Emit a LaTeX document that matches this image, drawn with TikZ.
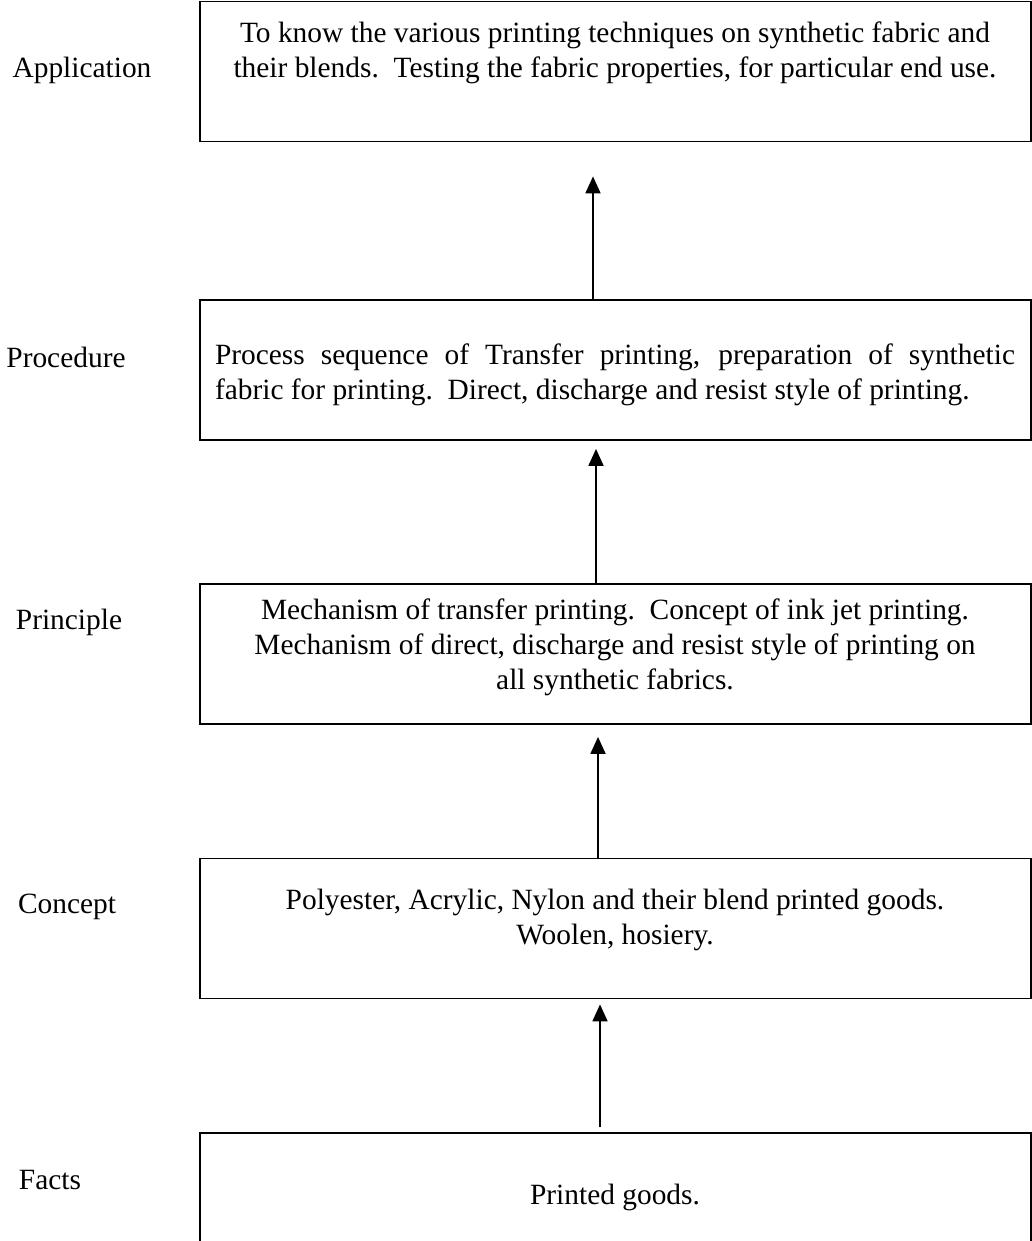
\documentclass[tikz,border=0pt]{standalone}
\usepackage{fontspec}
\setmainfont{Liberation Serif}
\usetikzlibrary{arrows.meta,positioning}

\tikzset{
  stagebox/.style={draw, line width=0.9pt, minimum width=415.5pt,
                   minimum height=70pt, inner sep=0pt},
  stagetext/.style={font=\fontsize{14.7}{17.5}\selectfont, align=center,
                    inner sep=0pt},
  stagelabel/.style={font=\fontsize{14.7}{17.5}\selectfont, inner sep=0pt},
  flow/.style={-{Triangle[length=8.5pt,width=7.5pt]}, line width=0.9pt}
}

\begin{document}
\begin{tikzpicture}[x=0.5pt, y=-0.5pt]
  \useasboundingbox (0,0) rectangle (1032,1241);

  %% -- stage boxes and side labels --------------------
  \foreach \nm/\yy/\lab/\lx/\ly in {appl/71.5/Application/82/70,
                                    proc/370/Procedure/66/357,
                                    prin/654/Principle/69/622,
                                    conc/928.5/Concept/67/907,
                                    fact/1203/Facts/50/1180}{
    \node[stagebox] (\nm) at (615.5,\yy) {};
    \node[stagelabel] (\nm-lab) at (\lx,\ly) {\lab};
  }

  %% -- box texts ---------------------------------------
  \node[stagetext] (appl-txt) at (615,53)
    {To know the various printing techniques on synthetic fabric and\\
     their blends.\ \ Testing the fabric properties, for particular end use.};
  \node[stagetext, align=justify, text width=400pt] (proc-txt) at (615,375)
    {Process sequence of Transfer printing, preparation of synthetic\linebreak
     fabric for printing.\ \ Direct, discharge and resist style of printing.};
  \node[stagetext] (prin-txt) at (615,647)
    {Mechanism of transfer printing.\ \ Concept of ink jet printing.\\
     Mechanism of direct, discharge and resist style of printing on\\
     all synthetic fabrics.};
  \node[stagetext] (conc-txt) at (615,920)
    {Polyester, Acrylic, Nylon and their blend printed goods.\\
     Woolen, hosiery.};
  \node[stagetext] (fact-txt) at (615,1197) {Printed goods.};

  %% -- upward arrows -----------------------------------
  \draw[flow] ([xshift=-11.25pt]proc.north)
    -- ([xshift=-11.25pt, yshift=-17pt]appl.south);
  \draw[flow] ([xshift=-9.75pt]prin.north)
    -- ([xshift=-9.75pt, yshift=-4pt]proc.south);
  \draw[flow] ([xshift=-8.75pt]conc.north)
    -- ([xshift=-8.75pt, yshift=-6pt]prin.south);
  \draw[flow] ([xshift=-7.75pt, yshift=2.5pt]fact.north)
    -- ([xshift=-7.75pt, yshift=-2.5pt]conc.south);

\end{tikzpicture}
\end{document}
